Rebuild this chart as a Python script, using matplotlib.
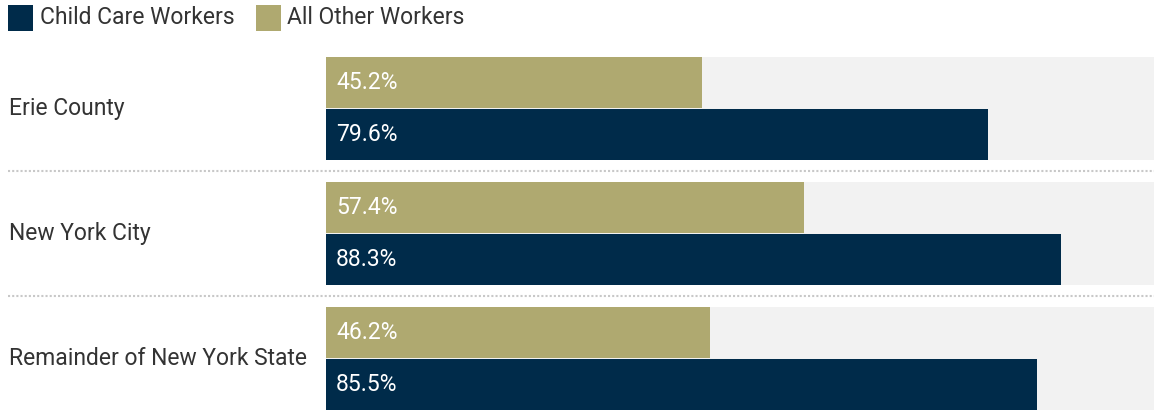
import matplotlib
matplotlib.use("Agg")
from matplotlib import pyplot as plt
from matplotlib.patches import Rectangle
import matplotlib.transforms as mtransforms

regions = ["Erie County", "New York City", "Remainder of New York State"]
child_care = [79.6, 88.3, 85.5]
all_other = [45.2, 57.4, 46.2]
series_names = ["Child Care Workers", "All Other Workers"]

navy = "#002b4a"
gold = "#afa970"
track = "#f2f2f2"
text_col = "#333333"
fs = 16.5

plt.rcParams["font.family"] = ["Roboto", "DejaVu Sans"]

W, H = 1154, 411
fig = plt.figure(figsize=(W / 100, H / 100), dpi=100)
# axes spans the bar area in pixels
ax = fig.add_axes([326 / W, 0, 828 / W, (411 - 57) / H])

bar_h = 0.41
off = 0.206
for i, (c, o) in enumerate(zip(child_care, all_other)):
    ax.barh(i, 100, height=2 * bar_h + 0.01, color=track, zorder=1)
    ax.barh(i - off, o, height=bar_h, color=gold, zorder=2)
    ax.barh(i + off, c, height=bar_h, color=navy, zorder=2)
    ax.text(1.2, i - off, f"{o}%", color="white", va="center", ha="left", fontsize=fs, zorder=3)
    ax.text(1.2, i + off, f"{c}%", color="white", va="center", ha="left", fontsize=fs, zorder=3)

ax.set_xlim(0, 99.5)
ax.set_ylim(2.42, -0.412)
ax.axis("off")

# category labels and dotted separators
trans = mtransforms.blended_transform_factory(ax.transAxes, ax.transData)
x_left = (9 - 326) / 828
for i, name in enumerate(regions):
    ax.text(x_left, i, name, transform=trans, ha="left", va="center", fontsize=fs,
            color=text_col, clip_on=False)
for i in range(len(regions) - 1):
    ax.plot([(8 - 326) / 828, 1.0], [i + 0.5, i + 0.5], transform=trans, color="#c8c8c8",
            linestyle=(0, (1, 1)), linewidth=1.5, clip_on=False)

# legend at top
legend_items = [(series_names[0], navy, 8, 40), (series_names[1], gold, 256, 287)]
for name, col, sx, tx in legend_items:
    fig.patches.append(Rectangle((sx / W, 1 - 31 / H), 25 / W, 26 / H, transform=fig.transFigure,
                                 facecolor=col, edgecolor="none"))
    fig.text(tx / W, 1 - 18 / H, name, ha="left", va="center", fontsize=fs, color=text_col)

fig.savefig("out.png", dpi=100)
